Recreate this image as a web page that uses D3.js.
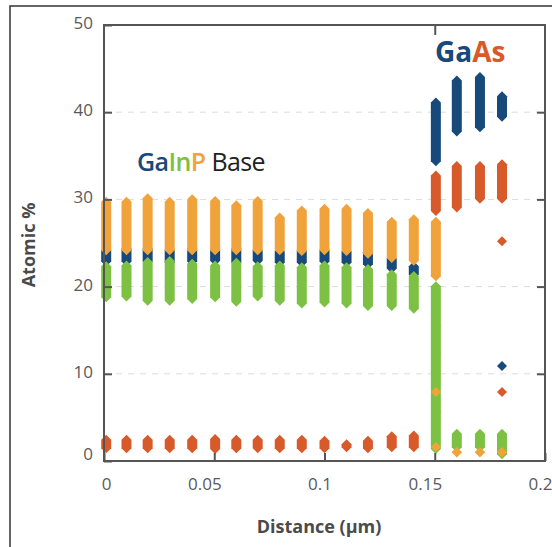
<!DOCTYPE html>
<html>
<head>
<meta charset="utf-8">
<script src="https://cdn.jsdelivr.net/npm/d3@7"></script>
<style>
  body { margin: 0; background: #fff; }
  text { font-family: "Open Sans", "DejaVu Sans", sans-serif; }
</style>
</head>
<body>
<div id="chart"></div>
<script>
var svgWidth = 552;
var svgHeight = 547;

// column positions along the line scan (µm)
var distance = [0.001, 0.0102, 0.0198, 0.0298, 0.0400, 0.0504, 0.0600, 0.0697, 0.0797, 0.0897,
  0.1000, 0.1100, 0.1197, 0.1305, 0.1405, 0.1505, 0.1600, 0.1705, 0.1805];

// per-column min / max of atomic % for each element
var gaLo = [22.3, 22.3, 22.3, 22.2, 22.3, 22.4, 22.2, 22.4, 22.2, 22.2, 22.3, 22.2, 22.0, 21.5, 20.8, 33.8, 37.2, 37.7, 38.9];
var gaHi = [24.8, 24.9, 24.9, 24.8, 24.9, 24.8, 24.9, 24.8, 24.6, 24.7, 24.8, 24.6, 24.5, 23.8, 22.9, 41.7, 44.2, 44.6, 42.4];
var inLo = [18.2, 18.3, 17.8, 17.8, 18.0, 18.2, 17.7, 18.3, 17.8, 17.5, 17.6, 17.5, 17.2, 17.2, 16.9, 0.8, 1.0, 1.0, 0.2];
var inHi = [22.9, 23.0, 23.4, 23.5, 23.2, 23.0, 23.3, 22.9, 23.0, 22.8, 23.0, 22.8, 22.6, 22.0, 21.8, 20.6, 3.7, 3.7, 3.7];
var pLo  = [23.6, 23.6, 23.6, 23.6, 23.6, 23.6, 23.6, 23.6, 23.6, 23.5, 23.6, 23.5, 23.2, 22.7, 22.4, 20.6, 0.4, 0.4, 0.4];
var pHi  = [30.3, 30.3, 30.7, 30.3, 30.6, 30.4, 29.9, 30.4, 28.5, 29.3, 29.5, 29.5, 29.0, 28.0, 28.3, 28.0, 1.6, 1.6, 1.6];
var asLo = [0.9, 0.9, 0.9, 0.9, 0.9, 0.8, 0.9, 0.9, 0.9, 0.9, 0.9, 1.0, 0.9, 1.0, 1.0, 28.1, 28.5, 29.5, 29.5];
var asHi = [3.0, 3.0, 3.0, 3.0, 3.0, 3.1, 3.0, 3.0, 3.0, 3.0, 2.9, 2.5, 2.9, 3.4, 3.5, 33.3, 34.4, 34.4, 34.6];

// stray single points [distance, atomic %]
var gaStray = [[0.1505, 27.2], [0.1805, 10.9]];
var asStray = [[0.1805, 25.2], [0.1805, 7.9], [0.1505, 15.5], [0.1505, 12.3], [0.1505, 5.6]];
var pStray  = [[0.1505, 7.9], [0.1505, 1.6]];

var yTicks = [0, 10, 20, 30, 40, 50];
var xTicks = [0, 0.05, 0.1, 0.15, 0.2];

var colors = { Ga: "#17497a", In: "#7cc143", P: "#f1a33b", As: "#d85a2a" };

var svg = d3.select("#chart")
  .append("svg")
  .attr("width", svgWidth)
  .attr("height", svgHeight);

// outer figure frame (cropped on right / bottom)
svg.append("rect")
  .attr("x", 10).attr("y", 6)
  .attr("width", 560).attr("height", 560)
  .attr("fill", "none")
  .attr("stroke", "#333")
  .attr("stroke-width", 1.5);

var x = d3.scaleLinear().domain([0, 0.2]).range([104, 545]);
var y = d3.scaleLinear().domain([0, 50]).range([461, 25]);

// faint dashed grid
svg.append("g").selectAll("line")
  .data([10, 20, 30, 40])
  .enter().append("line")
  .attr("x1", x(0)).attr("x2", x(0.2))
  .attr("y1", d => y(d)).attr("y2", d => y(d))
  .attr("stroke", "#dcdcdc")
  .attr("stroke-dasharray", "6,6");

// range marks: a column of diamonds, drawn as one pointed capsule
var hw = 5, tip = 5;
function capsule(xv, lo, hi) {
  var cx = x(xv), yt = y(hi), yb = y(lo);
  var t = Math.min(tip, (yb - yt) / 2);
  return "M" + cx + "," + yt +
    "L" + (cx + hw) + "," + (yt + t) +
    "L" + (cx + hw) + "," + (yb - t) +
    "L" + cx + "," + yb +
    "L" + (cx - hw) + "," + (yb - t) +
    "L" + (cx - hw) + "," + (yt + t) + "Z";
}
function diamond(xv, v) {
  var cx = x(xv), cy = y(v);
  return "M" + cx + "," + (cy - tip) + "L" + (cx + hw) + "," + cy +
    "L" + cx + "," + (cy + tip) + "L" + (cx - hw) + "," + cy + "Z";
}

var series = [
  { key: "Ga", lo: gaLo, hi: gaHi, stray: gaStray },
  { key: "As", lo: asLo, hi: asHi, stray: asStray },
  { key: "In", lo: inLo, hi: inHi, stray: [] },
  { key: "P",  lo: pLo,  hi: pHi,  stray: pStray }
];

var marks = svg.append("g");
series.forEach(function(s) {
  marks.append("g").selectAll("path")
    .data(distance)
    .enter().append("path")
    .attr("d", (d, i) => capsule(d, s.lo[i], s.hi[i]))
    .attr("fill", colors[s.key]);
  marks.append("g").selectAll("path")
    .data(s.stray)
    .enter().append("path")
    .attr("d", d => diamond(d[0], d[1]))
    .attr("fill", colors[s.key]);
});

// plot frame
svg.append("rect")
  .attr("x", x(0)).attr("y", y(50))
  .attr("width", x(0.2) - x(0)).attr("height", y(0) - y(50))
  .attr("fill", "none")
  .attr("stroke", "#555")
  .attr("stroke-width", 2);

// axes with inward ticks
var leftAxis = d3.axisLeft(y).tickValues(yTicks).tickSize(-8).tickPadding(11);
var bottomAxis = d3.axisBottom(x).tickValues(xTicks).tickSize(-8).tickPadding(17)
  .tickFormat(d3.format(""));
var rightAxis = d3.axisRight(y).tickValues([10, 20, 30, 40]).tickSize(-8).tickFormat("");
var topAxis = d3.axisTop(x).tickValues([0.15]).tickSize(-10).tickFormat("");

function styleAxis(g) {
  g.select(".domain").remove();
  g.selectAll("line").attr("stroke", "#555").attr("stroke-width", 2);
  g.selectAll("text")
    .attr("fill", "#5a5a5a")
    .style("font-size", "17px")
    .style("font-family", "'Open Sans', sans-serif");
}

svg.append("g").attr("transform", `translate(${x(0)},0)`).call(leftAxis).call(styleAxis)
  .selectAll("text").attr("dy", d => d === 0 ? "-0.1em" : "0.2em");
svg.append("g").attr("transform", `translate(0,${y(0)})`).call(bottomAxis).call(styleAxis)
  .selectAll("text").attr("text-anchor", "end").attr("dx", 7);
svg.append("g").attr("transform", `translate(${x(0.2)},0)`).call(rightAxis).call(styleAxis);
svg.append("g").attr("transform", `translate(0,${y(50)})`).call(topAxis).call(styleAxis);

// axis titles
svg.append("text")
  .attr("transform", "rotate(-90)")
  .attr("x", -245)
  .attr("y", 35)
  .attr("text-anchor", "middle")
  .attr("fill", "#4a4a4a")
  .style("font-size", "18px")
  .style("font-weight", "700")
  .text("Atomic %");

svg.append("text")
  .attr("x", 319)
  .attr("y", 533)
  .attr("text-anchor", "middle")
  .attr("fill", "#4a4a4a")
  .style("font-size", "18px")
  .style("font-weight", "700")
  .text("Distance (µm)");

// material labels
var t1 = svg.append("text")
  .attr("x", 137).attr("y", 171)
  .style("font-size", "25px")
  .style("letter-spacing", "-0.6px")
  .style("font-weight", "600");
t1.append("tspan").attr("fill", colors.Ga).text("Ga");
t1.append("tspan").attr("fill", colors.In).text("In");
t1.append("tspan").attr("fill", colors.P).text("P");
t1.append("tspan").attr("fill", "#222").style("font-weight", "400").text(" Base");

var t2 = svg.append("text")
  .attr("x", 435).attr("y", 62)
  .style("font-size", "28px")
  .style("font-weight", "700");
t2.append("tspan").attr("fill", colors.Ga).text("Ga");
t2.append("tspan").attr("fill", colors.As).text("As");
</script>
</body>
</html>
